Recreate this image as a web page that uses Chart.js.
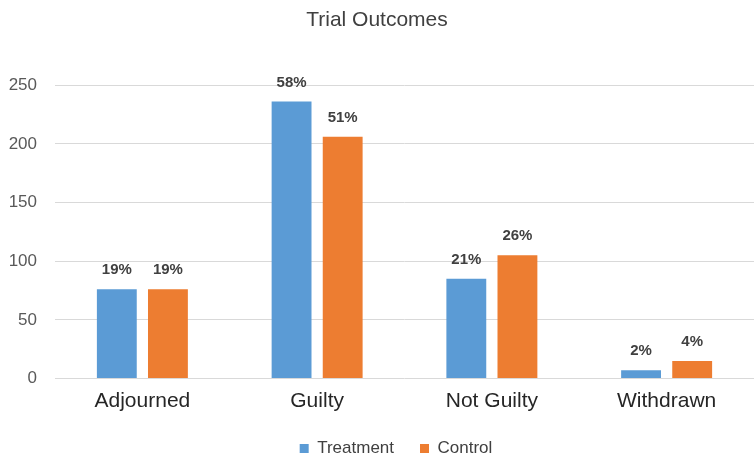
<!DOCTYPE html>
<html>
<head>
<meta charset="utf-8">
<script src="https://cdn.jsdelivr.net/npm/chart.js@4/dist/chart.umd.min.js"></script>
<style>
  html, body { margin: 0; padding: 0; background: #ffffff; }
  #wrap { width: 754px; height: 460px; }
</style>
</head>
<body>
<div id="wrap"><canvas id="c" width="754" height="460"></canvas></div>
<script>
// Trial outcome counts per group
const categories = ['Adjourned', 'Guilty', 'Not Guilty', 'Withdrawn'];
const treatment = [76, 236, 85, 7];
const control = [76, 206, 105, 15];
const yTicks = [0, 50, 100, 150, 200, 250];

const FONT = "'Liberation Sans', Arial, sans-serif";

// Share of each group's total, written above every bar
const pctLabels = {
  id: 'pctLabels',
  afterDatasetsDraw(chart) {
    const ctx = chart.ctx;
    ctx.save();
    ctx.font = 'bold 15px ' + FONT;
    ctx.fillStyle = '#404040';
    ctx.textAlign = 'center';
    ctx.textBaseline = 'middle';
    chart.data.datasets.forEach((ds, i) => {
      const total = ds.data.reduce((a, b) => a + b, 0);
      chart.getDatasetMeta(i).data.forEach((bar, j) => {
        const pct = Math.round(ds.data[j] / total * 100) + '%';
        ctx.fillText(pct, bar.x, bar.y - 19);
      });
    });
    ctx.restore();
  }
};

// Nudge the legend row a little to the right of centre
const legendShift = {
  id: 'legendShift',
  afterLayout(chart) {
    if (chart.legend) {
      chart.legend.left += 19;
      chart.legend.right += 19;
    }
  }
};

new Chart(document.getElementById('c'), {
  type: 'bar',
  data: {
    labels: categories,
    datasets: [
      { label: 'Treatment', data: treatment, backgroundColor: '#5B9BD5',
        categoryPercentage: 0.585, barPercentage: 0.78 },
      { label: 'Control', data: control, backgroundColor: '#ED7D31',
        categoryPercentage: 0.585, barPercentage: 0.78 }
    ]
  },
  options: {
    responsive: false,
    animation: false,
    layout: { padding: { left: 0, right: 0, top: 0, bottom: -7 } },
    plugins: {
      title: {
        display: true,
        text: 'Trial Outcomes',
        color: '#404040',
        font: { family: FONT, size: 21, weight: 'normal' },
        padding: { top: 8, bottom: 52 }
      },
      legend: {
        position: 'bottom',
        labels: {
          color: '#404040',
          font: { family: FONT, size: 17 },
          boxWidth: 9,
          boxHeight: 9,
          padding: 26
        }
      },
      tooltip: { enabled: false }
    },
    scales: {
      x: {
        afterFit(scale) { scale.height = 35.5; },
        grid: { display: false, drawTicks: false },
        border: { display: false },
        ticks: {
          color: '#262626',
          font: { family: FONT, size: 21 },
          padding: 10
        }
      },
      y: {
        min: 0,
        max: 250,
        afterFit(scale) { scale.width = 55; },
        afterBuildTicks(scale) { scale.ticks = yTicks.map(v => ({ value: v })); },
        grid: { color: '#d9d9d9', lineWidth: 1, drawTicks: false },
        border: { display: false },
        ticks: {
          color: '#595959',
          font: { family: FONT, size: 17 },
          padding: 18
        }
      }
    }
  },
  plugins: [pctLabels, legendShift]
});
</script>
</body>
</html>
